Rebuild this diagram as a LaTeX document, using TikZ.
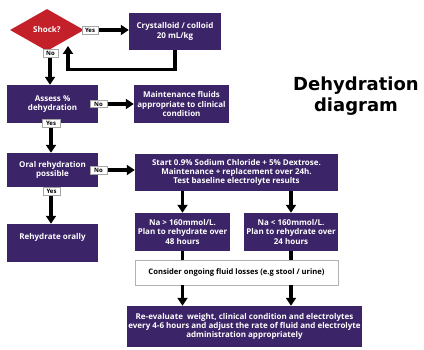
\documentclass[tikz,border=0pt]{standalone}
\usepackage{fontspec}
\setmainfont{Open Sans}
\newfontfamily\titlefont{DejaVu Sans}
\usetikzlibrary{shapes.geometric,arrows.meta}
\definecolor{boxpurple}{RGB}{59,36,103}
\definecolor{shockred}{RGB}{196,32,42}
\begin{document}
\begin{tikzpicture}[x=1pt,y=-1pt,
  pbox/.style={fill=boxpurple, text=white, font=\bfseries\fontsize{8}{9.2}\selectfont, align=center, inner sep=0pt},
  lbl/.style={fill=white, draw=gray!70, line width=0.6pt, font=\bfseries\fontsize{6}{6}\selectfont, inner sep=0pt, minimum width=16pt, minimum height=7.5pt},
  conn/.style={line width=3.2pt, -{Triangle[length=8pt,width=10pt]}},
  plainline/.style={line width=3.2pt},
]
\useasboundingbox (0,0) rectangle (424,350);

\node[diamond, fill=shockred, text=white, font=\bfseries\fontsize{8}{9}\selectfont, minimum width=74pt, minimum height=42pt, inner sep=0pt] (shock) at (47,30) {Shock?};
\node[pbox, minimum width=92pt, minimum height=37pt] (cryst) at (175,31.5) {Crystalloid / colloid\\20 mL/kg};
\node[pbox, minimum width=91pt, minimum height=38pt] (assess) at (52.5,104) {Assess \%\\dehydration};
\node[pbox, minimum width=95pt, minimum height=38pt] (maint) at (181.5,104) {Maintenance fluids\\appropriate to clinical\\condition};
\node[pbox, minimum width=91pt, minimum height=34pt] (oral) at (52.5,170) {Oral rehydration\\possible};
\node[pbox, minimum width=203pt, minimum height=37pt] (start) at (236.5,172.5) {Start 0.9\% Sodium Chloride + 5\% Dextrose.\\Maintenance + replacement over 24h.\\Test baseline electrolyte results};
\node[pbox, minimum width=91pt, minimum height=38pt, text depth=12.5pt] (rehyd) at (52.5,243) {Rehydrate orally};
\node[pbox, minimum width=95pt, minimum height=38pt] (nahi) at (182.5,232) {Na > 160mmol/L.\\Plan to rehydrate over\\48 hours};
\node[pbox, minimum width=94pt, minimum height=38pt] (nalo) at (291,232) {Na < 160mmol/L.\\Plan to rehydrate over\\24 hours};
\node[fill=white, draw=gray!60, line width=0.8pt, font=\bfseries\fontsize{7.6}{9}\selectfont, minimum width=203pt, minimum height=25pt, inner sep=0pt] (consider) at (236.5,272.5) {Consider ongoing fluid losses (e.g stool / urine)};
\node[pbox, minimum width=235pt, minimum height=41pt] (reeval) at (244.5,326.5) {Re-evaluate\ \ weight, clinical condition and electrolytes\\every 4-6 hours and adjust the rate of fluid and electrolyte\\administration appropriately};

\node[font=\titlefont\bfseries\fontsize{18}{21}\selectfont, align=center] (title) at (356,96) {Dehydration\\diagram};

% connectors
\draw[conn] (shock.east) -- (shock.east -| cryst.west);
\coordinate (fb) at (68,46);
\draw[conn] (cryst.south) -- ++(0,19) -| (fb);
\draw[conn] (shock.south -| 50,0) -- (assess.north -| 50,0);
\draw[conn] (assess.east) -- (maint.west);
\draw[conn] (assess.south -| 51,0) -- (oral.north -| 51,0);
\draw[conn] (oral.east) -- (oral.east -| start.west);
\draw[conn] (oral.south -| 51,0) -- (rehyd.north -| 51,0);
\draw[conn] (start.south -| nahi.north) -- (nahi.north);
\draw[conn] (start.south -| nalo.north) -- (nalo.north);
\draw[plainline] (nahi.south) -- (nahi.south |- consider.north);
\draw[plainline] (nalo.south) -- (nalo.south |- consider.north);
\draw[conn] (consider.south -| nahi.south) -- (reeval.north -| nahi.south);
\draw[conn] (consider.south -| nalo.south) -- (reeval.north -| nalo.south);

% labels
\node[lbl] (yes1) at (90,30.5) {Yes};
\node[lbl, minimum width=15pt] (no1) at (50.5,53.5) {No};
\node[lbl, minimum width=17pt] (no2) at (98.5,104) {No};
\node[lbl, minimum width=18pt] (yes2) at (51,123.5) {Yes};
\node[lbl, minimum width=17pt] (no3) at (98.5,170.5) {No};
\node[lbl, minimum width=17pt] (yes3) at (51.5,191.5) {Yes};
\end{tikzpicture}
\end{document}
